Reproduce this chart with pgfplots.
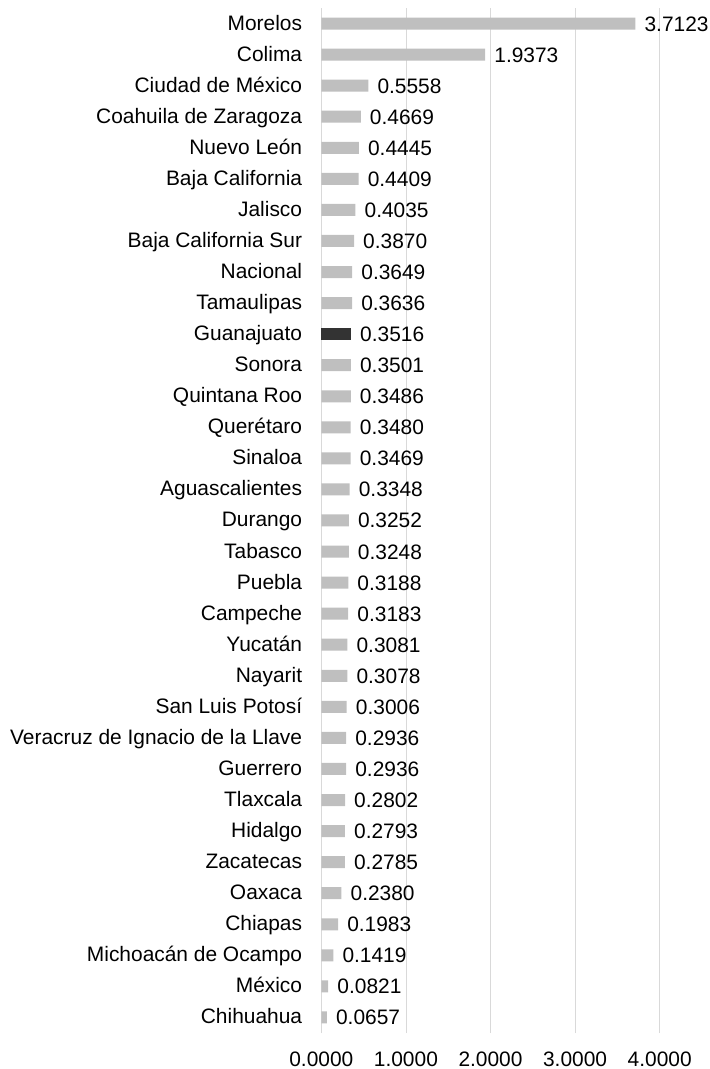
\documentclass[border=0pt]{standalone}
\usepackage{pgfplots}
\pgfplotsset{compat=1.18}
\usepackage{fontspec}
\setmainfont{Liberation Sans}
\usetikzlibrary{calc}
\definecolor{bargray}{HTML}{BFBFBF}
\definecolor{bardark}{HTML}{333333}
\definecolor{gridgray}{HTML}{D9D9D9}

\begin{document}
\begin{tikzpicture}
\begin{axis}[
    scale only axis,
    width=338.4bp, height=1025bp,
    xmin=0, xmax=4,
    ymin=-0.5, ymax=32.5,
    xbar, bar width=12bp,
    axis line style={draw=none},
    major tick length=0pt,
    /pgf/number format/assume math mode=true,
    xmajorgrids, grid style={color=gridgray, line width=0.8bp},
    xtick={0,1,2,3,4},
    xticklabels={0.0000,1.0000,2.0000,3.0000,4.0000},
    ytick={0,...,32},
    yticklabels={Chihuahua,México,Michoacán de Ocampo,Chiapas,Oaxaca,Zacatecas,Hidalgo,Tlaxcala,Guerrero,Veracruz de Ignacio de la Llave,San Luis Potosí,Nayarit,Yucatán,Campeche,Puebla,Tabasco,Durango,Aguascalientes,Sinaloa,Querétaro,Quintana Roo,Sonora,Guanajuato,Tamaulipas,Nacional,Baja California Sur,Jalisco,Baja California,Nuevo León,Coahuila de Zaragoza,Ciudad de México,Colima,Morelos},
    tick label style={font=\fontsize{21}{24}\selectfont},
    yticklabel style={inner sep=0pt, anchor=base east, xshift=-19bp, yshift=-6.5bp},
    xticklabel style={inner sep=0pt, anchor=base, yshift=-33bp},
    nodes near coords={\pgfmathprintnumber[fixed,fixed zerofill,precision=4]{\pgfplotspointmeta}},
    nodes near coords style={anchor=base west, inner sep=0pt, xshift=9bp, yshift=-7.5bp, font=\fontsize{21}{24}\selectfont, text=black},
    clip=false,
]
\addplot[fill=bargray, draw=none, bar shift=0pt] coordinates {
(0.0657,0) (0.0821,1) (0.1419,2) (0.1983,3) (0.2380,4) (0.2785,5) (0.2793,6)
(0.2802,7) (0.2936,8) (0.2936,9) (0.3006,10) (0.3078,11) (0.3081,12)
(0.3183,13) (0.3188,14) (0.3248,15) (0.3252,16) (0.3348,17) (0.3469,18)
(0.3480,19) (0.3486,20) (0.3501,21) (0.3636,23) (0.3649,24)
(0.3870,25) (0.4035,26) (0.4409,27) (0.4445,28) (0.4669,29) (0.5558,30)
(1.9373,31) (3.7123,32)
};
\addplot[fill=bardark, draw=none, bar shift=0pt] coordinates {(0.3516,22)};
\end{axis}
\pgfresetboundingbox
\path ($(current axis.south west)+(-321.3bp,-36bp)$) rectangle ($(current axis.north west)+(387.7bp,8bp)$);
\end{tikzpicture}
\end{document}
